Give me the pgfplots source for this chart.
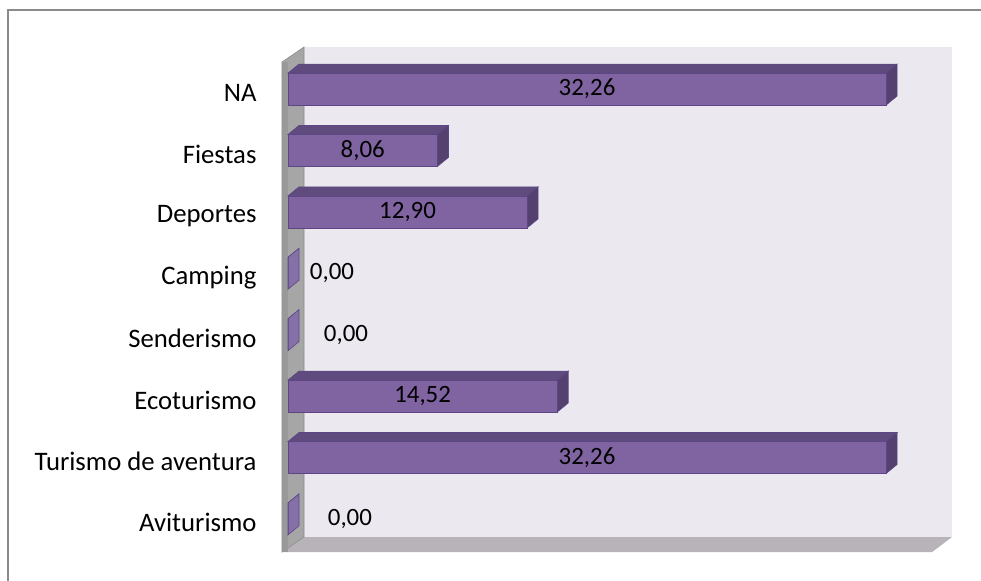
\documentclass[border=0pt]{standalone}
\usepackage{fontspec}
\setmainfont{Carlito}
\usepackage{pgfplots}
\usepackage{pgfplotstable}
\pgfplotsset{compat=1.18}

\definecolor{backwall}{HTML}{EBE8F0}
\definecolor{sidewall}{HTML}{A6A6A6}
\definecolor{sidefront}{HTML}{999999}
\definecolor{walledge}{HTML}{8C8C8C}
\definecolor{floorcol}{HTML}{B7B3B9}
\definecolor{barfront}{HTML}{8064A2}
\definecolor{bartop}{HTML}{5F4B7D}
\definecolor{barside}{HTML}{54416F}
\definecolor{baredge}{HTML}{5C4784}
\definecolor{zeroface}{HTML}{8670A8}
\definecolor{framegray}{HTML}{8A8A8A}

% c = category position, v = value, lx = where the value label sits
\pgfplotstableread{
c v lx txt
0 0 3.34 0,00
1 32.26 16.13 32,26
2 14.52 7.26 14,52
3 0 3.13 0,00
4 0 2.37 0,00
5 12.90 6.45 12,90
6 8.06 4.03 8,06
7 32.26 16.13 32,26
}\datatable

\begin{document}
\begin{tikzpicture}
\begin{axis}[
  name=ax,
  scale only axis,
  width=670bp, height=505bp,
  xmin=-0.324, xmax=35.81,
  ymin=-0.539, ymax=7.685,
  axis line style={draw=none},
  xtick=\empty,
  ytick={0,...,7},
  yticklabels={Aviturismo, Turismo de aventura, Ecoturismo, Senderismo,
    Camping, Deportes, Fiestas, NA},
  major tick length=0pt,
  yticklabel style={font=\fontsize{26.8}{32}\selectfont, xshift=-22bp, yshift=-4bp},
  clip=false,
]
% walls and floor
\addplot[fill=backwall, draw=none] coordinates
  {(0.863,-0.295) (35.81,-0.295) (35.81,7.685) (0.863,7.685)} -- cycle;
\addplot[fill=floorcol, draw=none] coordinates
  {(-0.324,-0.539) (34.74,-0.539) (35.81,-0.295) (0.863,-0.295)} -- cycle;
\addplot[fill=sidewall, draw=walledge, line width=0.6bp] coordinates
  {(-0.324,-0.539) (-0.324,7.44) (0.863,7.685) (0.863,-0.295)} -- cycle;
\addplot[fill=sidefront, draw=none] coordinates
  {(-0.324,-0.539) (-0.324,7.44) (0,7.44) (0,-0.539)} -- cycle;

% 3d faces of the bars
\def\hh{0.26}\def\bdx{0.593}\def\bdy{0.147}
\pgfplotsforeachungrouped \i in {0,...,7}{
  \pgfplotstablegetelem{\i}{v}\of\datatable \let\bv\pgfplotsretval
  \pgfplotstablegetelem{\i}{c}\of\datatable \let\bc\pgfplotsretval
  \pgfmathsetmacro\yb{\bc-\hh}
  \pgfmathsetmacro\yt{\bc+\hh}
  \pgfmathsetmacro\ybb{\yb+\bdy}
  \pgfmathsetmacro\ytb{\yt+\bdy}
  \pgfmathsetmacro\xv{\bv+\bdx}
  \pgfmathparse{\bv==0 ? "zeroface" : "barside"}\let\sidecol\pgfmathresult
  \edef\tmp{%
    \noexpand\addplot[fill=bartop, draw=baredge, line width=0.6bp] coordinates
      {(0,\yt) (\bv,\yt) (\xv,\ytb) (\bdx,\ytb)} -- cycle;
    \noexpand\addplot[fill=\sidecol, draw=baredge, line width=0.6bp] coordinates
      {(\bv,\yb) (\xv,\ybb) (\xv,\ytb) (\bv,\yt)} -- cycle;
  }\tmp
}

% front faces
\addplot[xbar, bar width=0.52, fill=barfront, draw=baredge, line width=0.6bp]
  table[x=v, y=c] {\datatable};

% value labels
\addplot[draw=none, mark=none, nodes near coords, point meta=explicit symbolic,
  every node near coord/.append style={anchor=center,
    font=\fontsize{25}{30}\selectfont, text=black}]
  table[x=lx, y=c, meta=txt] {\datatable};
\end{axis}

\draw[framegray, line width=1.3bp]
  ([shift={(-274bp,-40bp)}]ax.south west) -- ([shift={(-274bp,542bp)}]ax.south west)
  -- ([shift={(740bp,542bp)}]ax.south west);
\pgfresetboundingbox
\path[use as bounding box] ([shift={(-282bp,-29bp)}]ax.south west)
  rectangle ([shift={(699bp,552bp)}]ax.south west);
\end{tikzpicture}
\end{document}
